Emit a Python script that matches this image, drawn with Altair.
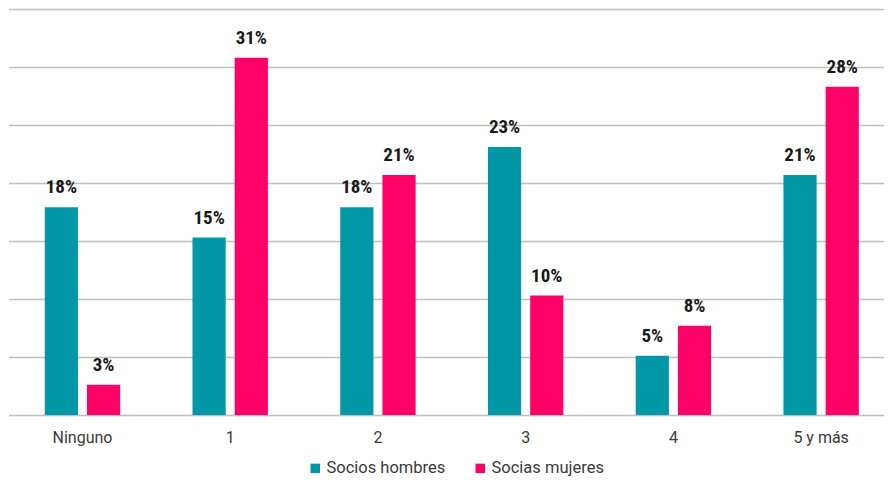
import altair as alt
import pandas as pd

categories = ["Ninguno", "1", "2", "3", "4", "5 y más"]
series = ["Socios hombres", "Socias mujeres"]
hombres = [0.179, 0.153, 0.179, 0.231, 0.051, 0.207]
mujeres = [0.026, 0.308, 0.207, 0.103, 0.077, 0.283]
colors = ["#0097A7", "#FF0066"]

rows = []
for c, h, m in zip(categories, hombres, mujeres):
    rows.append({"cat": c, "serie": series[0], "val": h})
    rows.append({"cat": c, "serie": series[1], "val": m})
df = pd.DataFrame(rows)
df["label"] = (df["val"] * 100).round().astype(int).astype(str) + "%"

x = alt.X("cat:N", sort=categories, title=None,
          scale=alt.Scale(paddingInner=0, paddingOuter=0, range=[0.6, 887]),
          axis=alt.Axis(labelAngle=0, ticks=False, domain=False, labelPadding=14,
                        labelFont="Roboto", labelFontSize=16, labelColor="#3a3a3a"))
xoff = alt.XOffset("serie:N", sort=series,
                   scale=alt.Scale(paddingInner=0.214, paddingOuter=0.857))
y = alt.Y("val:Q", title=None,
          scale=alt.Scale(domain=[0, 0.35], nice=False),
          axis=alt.Axis(labels=False, ticks=False, domain=False,
                        values=[0, 0.05, 0.1, 0.15, 0.2, 0.25, 0.3, 0.35],
                        gridColor="#BFBFBF", gridWidth=1.5, gridOpacity=1))
color = alt.Color("serie:N", sort=series, title=None,
                  scale=alt.Scale(domain=series, range=colors),
                  legend=alt.Legend(orient="none", direction="horizontal",
                                    legendX=299, legendY=451,
                                    symbolType="square", symbolSize=90,
                                    labelFont="Roboto", labelFontSize=16.5, labelColor="#3a3a3a",
                                    labelOffset=3, columnPadding=26, symbolStrokeWidth=0))

base = alt.Chart(df)
bars = base.mark_bar().encode(x=x, xOffset=xoff, y=y, color=color)
text = base.mark_text(dy=-14, baseline="alphabetic", fontWeight="bold", fontSize=19,
                      font="'Roboto Condensed', 'Liberation Sans Narrow', 'DejaVu Sans Condensed', Roboto",
                      color="#1a1a1a").encode(
    x=alt.X("cat:N", sort=categories), xOffset=xoff, y="val:Q", text="label:N")

chart = (bars + text).properties(
    width=876, height=406,
    padding={"left": 0, "right": 0, "top": 1, "bottom": 61},
    autosize=alt.AutoSizeParams(type="none"),
).configure_view(stroke=None)

chart.save("out.html", embed_options={"renderer": "svg", "actions": False})
